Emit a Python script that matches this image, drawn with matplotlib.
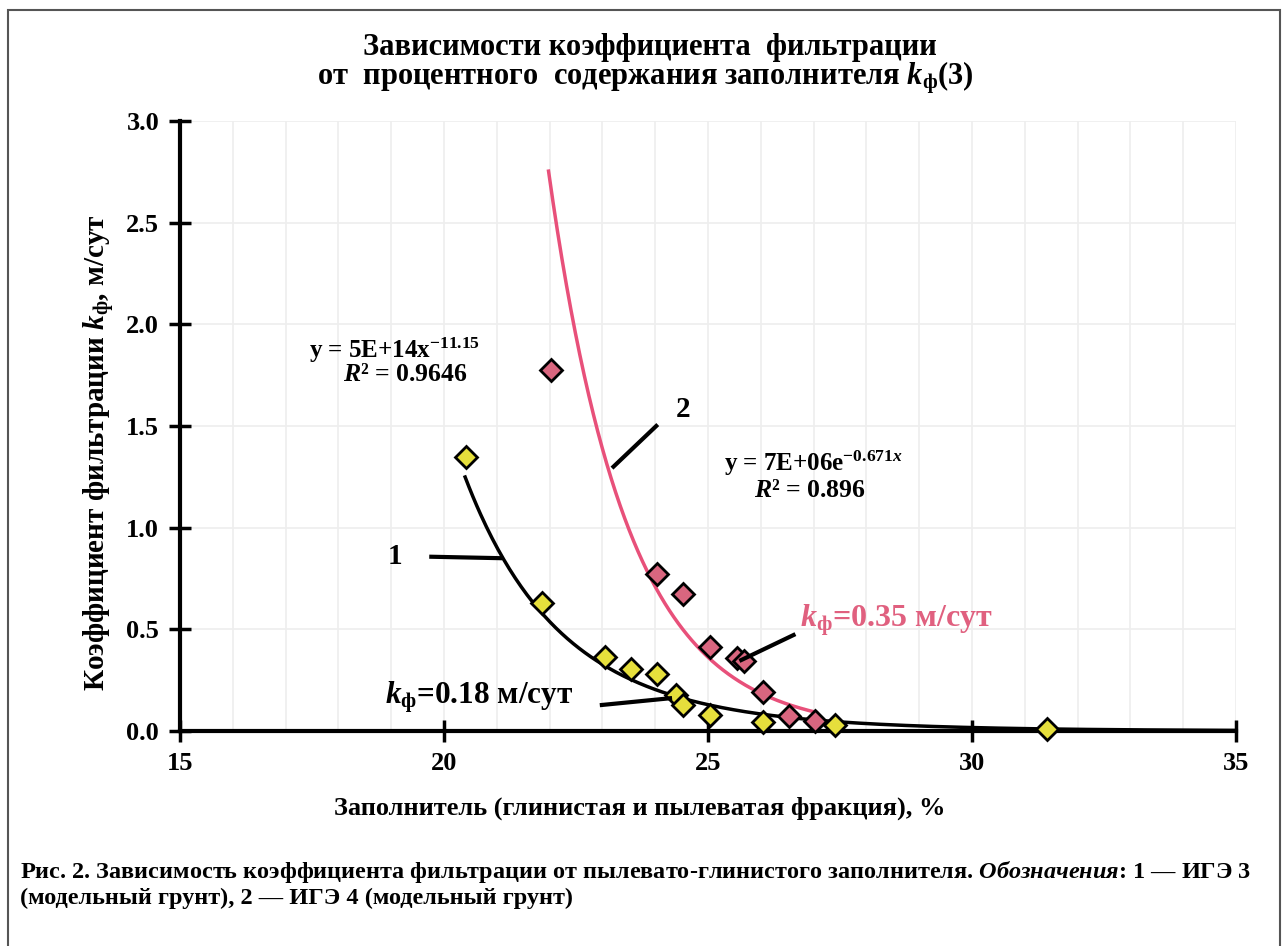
import numpy as np
import matplotlib
matplotlib.use("Agg")
import matplotlib.pyplot as plt
from matplotlib.patches import Rectangle

plt.rcParams['font.family'] = ['Liberation Serif', 'DejaVu Serif']
plt.rcParams['font.weight'] = 'bold'
plt.rcParams['axes.labelweight'] = 'bold'
plt.rcParams['mathtext.fontset'] = 'custom'
plt.rcParams['mathtext.rm'] = 'Liberation Serif:bold'
plt.rcParams['mathtext.it'] = 'Liberation Serif:italic:bold'
plt.rcParams['mathtext.bf'] = 'Liberation Serif:bold'

# ИГЭ 3 (series 1)
x1 = [20.42, 21.85, 23.04, 23.54, 24.03, 24.39, 24.52, 25.04, 26.05, 27.41, 31.42]
y1 = [1.348, 0.628, 0.363, 0.303, 0.280, 0.177, 0.128, 0.079, 0.046, 0.030, 0.010]
# ИГЭ 4 (series 2)
x2 = [22.02, 24.03, 24.52, 25.04, 25.54, 25.68, 26.05, 26.54, 27.03]
y2 = [1.776, 0.772, 0.674, 0.415, 0.360, 0.345, 0.193, 0.074, 0.051]

# trend lines as printed on the chart
pow_a, pow_b = 5e14, -11.15     # y = a * x^b
exp_a, exp_b = 7e6, -0.671      # y = a * e^(b x)
trend1_range = (20.4, 35.0)
trend2_range = (21.98, 27.05)

xticks = [15, 20, 25, 30, 35]
yticks = [0.0, 0.5, 1.0, 1.5, 2.0, 2.5, 3.0]

W, H = 1286, 946
fig = plt.figure(figsize=(W / 100, H / 100), dpi=100)
ax = fig.add_axes([180 / W, 1 - 731 / H, (1236 - 180) / W, (731 - 121) / H])

ax.set_xlim(15, 35)
ax.set_ylim(0, 3)
ax.set_xticks(xticks)
ax.set_yticks(yticks)
ax.set_xticklabels([str(t) for t in xticks])
ax.set_yticklabels(['%.1f' % t for t in yticks])
ax.set_xticks(np.arange(15, 36, 1), minor=True)
ax.tick_params(which='minor', length=0)
ax.grid(True, which='both', axis='x', color='#eeeeee', lw=1.2)
ax.grid(True, which='major', axis='y', color='#eeeeee', lw=1.2)
ax.set_axisbelow(True)

for s in ['top', 'right']:
    ax.spines[s].set_visible(False)
for s in ['left', 'bottom']:
    ax.spines[s].set_linewidth(3)
ax.tick_params(which='major', direction='inout', length=16, width=2.5,
               labelsize=19, pad=7)

t1 = np.linspace(*trend1_range, 400)
ax.plot(t1, pow_a * t1 ** pow_b, color='black', lw=2.5, clip_on=False, zorder=3)
t2 = np.linspace(*trend2_range, 300)
ax.plot(t2, exp_a * np.exp(exp_b * t2), color='#e8507a', lw=2.5, zorder=3)

ax.plot(x1, y1, 'D', ms=11, mfc='#e6df3c', mec='black', mew=2, ls='none',
        clip_on=False, zorder=4)
ax.plot(x2, y2, 'D', ms=11, mfc='#d9667f', mec='black', mew=2, ls='none',
        clip_on=False, zorder=4)

# equations
ax.text(19.07, 1.874, 'y = 5E+14x$^{-11.15}$', fontsize=18, ha='center', va='center')
ax.text(19.26, 1.751, '$R$² = 0.9646', fontsize=18.5, ha='center', va='center')
ax.text(26.99, 1.318, 'y = 7E+06e$^{-0.671x}$', fontsize=18, ha='center', va='center')
ax.text(26.93, 1.185, '$R$² = 0.896', fontsize=18.5, ha='center', va='center')

# curve numbers and leaders
ax.text(19.07, 0.856, '1', fontsize=21, ha='center', va='center')
ax.plot([19.76, 21.06], [0.857, 0.850], color='black', lw=3)
ax.text(24.53, 1.579, '2', fontsize=21, ha='center', va='center')
ax.plot([23.21, 24.02], [1.300, 1.500], color='black', lw=3)

ax.text(26.74, 0.546, '$k_\\mathrm{ф}$=0.35 м/сут', fontsize=23, color='#e0607f',
        ha='left', va='center')
ax.plot([26.62, 25.63], [0.472, 0.349], color='black', lw=3, zorder=5)
ax.text(18.88, 0.167, '$k_\\mathrm{ф}$=0.18 м/сут', fontsize=22.5, ha='left', va='center')
ax.plot([22.99, 24.28], [0.128, 0.161], color='black', lw=3, zorder=5)

ax.set_xlabel('Заполнитель (глинистая и пылеватая фракция), %', fontsize=19)
ax.set_ylabel('Коэффициент фильтрации $k_\\mathrm{ф}$, м/сут', fontsize=21)
ax.xaxis.set_label_coords(0.4356, -0.126)
ax.yaxis.set_label_coords(-0.0758, 0.457)
ax.xaxis.label.set_va('center')
ax.yaxis.label.set_va('center')

fig.text(650 / W, 1 - 47 / H, 'Зависимости коэффициента  фильтрации',
         fontsize=22, ha='center', va='center')
fig.text(645 / W, 1 - 78 / H, 'от  процентного  содержания заполнителя $k_\\mathrm{ф}$(3)',
         fontsize=22, ha='center', va='center')

fig.text(20 / W, 1 - 872 / H,
         'Рис. 2. Зависимость коэффициента фильтрации от пылевато-глинистого заполнителя. '
         '$\\it{Обозначения}$: 1 — ИГЭ 3', fontsize=17.5, ha='left', va='center')
fig.text(20 / W, 1 - 898 / H, '(модельный грунт), 2 — ИГЭ 4 (модельный грунт)',
         fontsize=17.5, ha='left', va='center')

fig.patches.append(Rectangle((8 / W, -0.01), (1280 - 8) / W, (946 - 10) / H + 0.01,
                             transform=fig.transFigure, fill=False,
                             edgecolor='#555555', lw=1.5))

fig.savefig('out.png', dpi=100)
